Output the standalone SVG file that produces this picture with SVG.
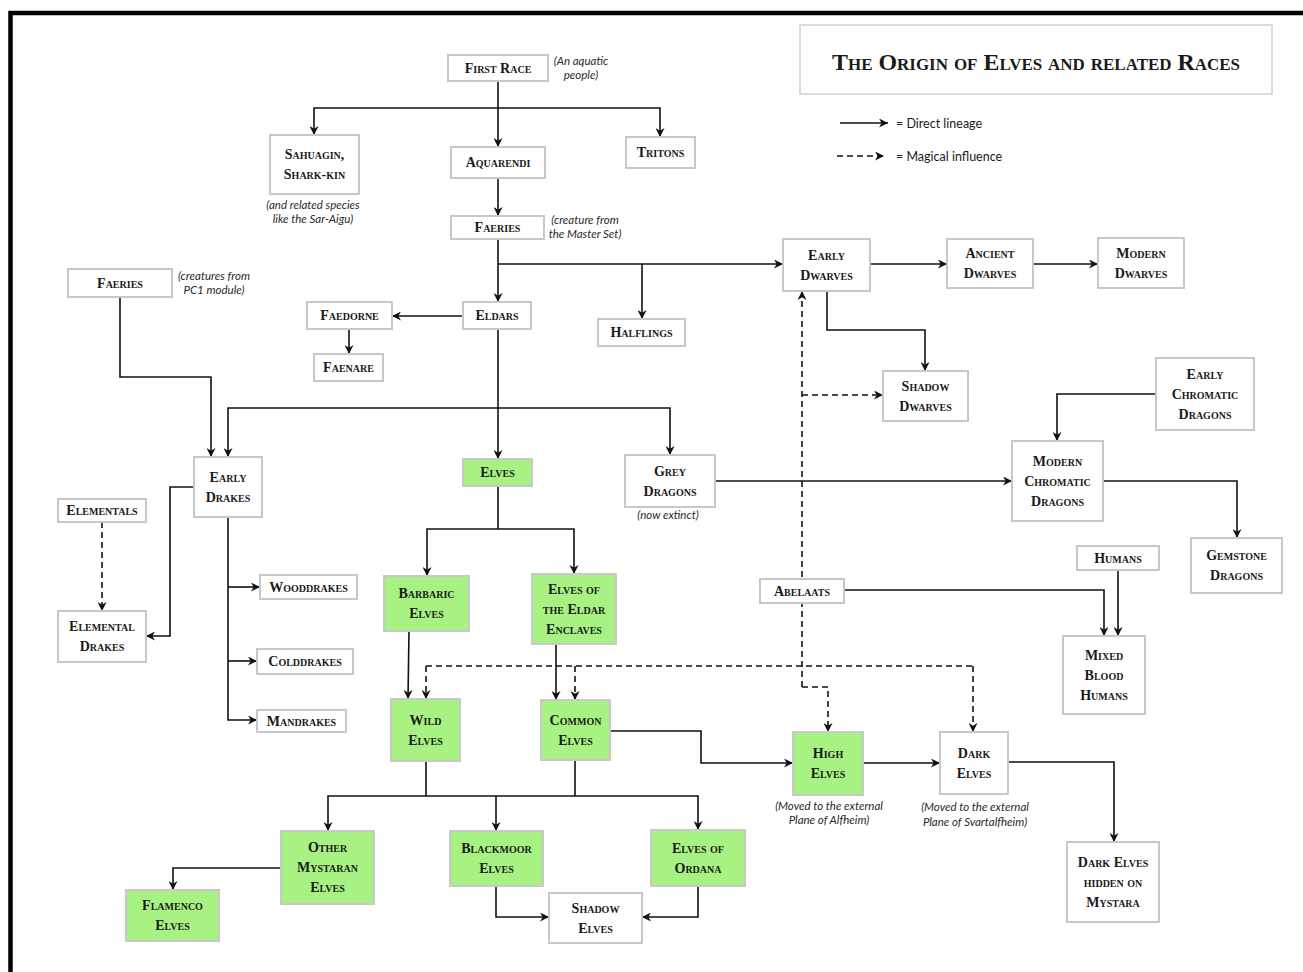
<svg xmlns="http://www.w3.org/2000/svg" width="1303" height="972" viewBox="0 0 1303 972">
<defs>
<marker id="ah" viewBox="0 0 10 10" refX="10" refY="5" markerWidth="9" markerHeight="9" markerUnits="userSpaceOnUse" orient="auto">
<path d="M0,0 L10,5 L0,10 L3,5 Z" fill="#111"/>
</marker>
<style>
.box{fill:#fff;stroke:#c8c8c8;stroke-width:2}
.green{fill:#a7f283}
.lbl{font-family:"Liberation Serif",serif;font-weight:bold;font-variant:small-caps;font-size:14px;fill:#1a1a1a;text-anchor:middle;dominant-baseline:central}
.note{font-family:Lato,"Liberation Sans",sans-serif;font-style:italic;font-size:11.5px;fill:#2a2a2a;text-anchor:middle}
.leg{font-family:Lato,"Liberation Sans",sans-serif;font-size:12.5px;fill:#1a1a1a;dominant-baseline:central}
.ln{fill:none;stroke:#111;stroke-width:1.6}
.ar{marker-end:url(#ah)}
.dash{stroke-dasharray:6 4}
</style>
</defs>
<rect width="1303" height="972" fill="#fff"/>
<path d="M10.5,972 V13 H1303" fill="none" stroke="#000" stroke-width="4.5"/>

<g id="title">
<rect x="800" y="25" width="472" height="69" fill="#fff" stroke="#d0d0d0" stroke-width="1.5"/>
<text x="1036" y="62" class="lbl" style="font-size:24px" textLength="408" lengthAdjust="spacingAndGlyphs">The Origin of Elves and related Races</text>
</g>

<g id="legend">
<path class="ln ar" d="M840,123 H888"/>
<text x="896" y="123" class="leg">= Direct lineage</text>
<path class="ln ar dash" d="M837,156 H884"/>
<text x="896" y="156" class="leg">= Magical influence</text>
</g>

<g id="connectors">
<path class="ln ar" d="M498,81 V147"/>
<path class="ln ar" d="M498,108 H314 V135"/>
<path class="ln ar" d="M498,108 H660 V137"/>
<path class="ln ar" d="M498,178 V216"/>
<path class="ln ar" d="M498,239 V302"/>
<path class="ln ar" d="M498,264 H783"/>
<path class="ln ar" d="M642,264 V319"/>
<path class="ln ar" d="M870,264 H947"/>
<path class="ln ar" d="M1033,264 H1098"/>
<path class="ln ar" d="M827,291 V330 H925 V371"/>
<path class="ln ar" d="M463,316 H392"/>
<path class="ln ar" d="M349,329 V354"/>
<path class="ln ar" d="M498,329 V459"/>
<path class="ln ar" d="M498,408 H228 V457"/>
<path class="ln ar" d="M498,408 H670 V455"/>
<path class="ln ar" d="M120,297 V377 H211 V457"/>
<path class="ln ar" d="M194,487 H170 V636 H146"/>
<path class="ln ar" d="M228,517 V720 H257"/>
<path class="ln ar" d="M228,587 H260"/>
<path class="ln ar" d="M228,661 H257"/>
<path class="ln ar" d="M715,481 H1012"/>
<path class="ln ar" d="M1156,394 H1057 V441"/>
<path class="ln ar" d="M1103,481 H1237 V538"/>
<path class="ln ar" d="M844,590 H1104 V636"/>
<path class="ln ar" d="M1118,570 V636"/>
<path class="ln" d="M498,486 V529"/>
<path class="ln ar" d="M498,529 H427 V576"/>
<path class="ln ar" d="M498,529 H574 V574"/>
<path class="ln ar" d="M409,631 L408,699"/>
<path class="ln ar" d="M556,644 V700"/>
<path class="ln ar" d="M610,731 H701 V763 H793"/>
<path class="ln ar" d="M863,763 H940"/>
<path class="ln ar" d="M1008,762 H1114 V842"/>
<path class="ln" d="M426,761 V796 M575,760 V796"/>
<path class="ln ar" d="M498,796 H328 V831"/>
<path class="ln ar" d="M496,796 V831"/>
<path class="ln ar" d="M498,796 H698 V830"/>
<path class="ln ar" d="M281,868 H173 V890"/>
<path class="ln ar" d="M496,886 V917 H549"/>
<path class="ln ar" d="M698,886 V917 H642"/>
<path class="ln ar dash" d="M102,522 V611"/>
<path class="ln ar dash" d="M802,687 V291"/>
<path class="ln ar dash" d="M802,687 H828 V732"/>
<path class="ln ar dash" d="M802,395 H883"/>
<path class="ln dash" d="M426,666 H973"/>
<path class="ln ar dash" d="M426,666 V699"/>
<path class="ln ar dash" d="M575,666 V700"/>
<path class="ln ar dash" d="M973,666 V732"/>
</g>

<g id="n-firstrace"><rect class="box" x="448" y="55" width="100" height="26"/><text class="lbl" x="498" y="68">First Race</text>
<text class="note" x="581" y="65">(An aquatic</text><text class="note" x="581" y="79">people)</text></g>
<g id="n-sahuagin"><rect class="box" x="270" y="135" width="89" height="59"/><text class="lbl" x="314.5" y="154.5">Sahuagin,</text><text class="lbl" x="314.5" y="174.5">Shark-kin</text>
<text class="note" x="313" y="209">(and related species</text><text class="note" x="313" y="223">like the Sar-Aigu)</text></g>
<g id="n-aquarendi"><rect class="box" x="451" y="147" width="94" height="31"/><text class="lbl" x="498" y="162.5">Aquarendi</text></g>
<g id="n-tritons"><rect class="box" x="626" y="137" width="69" height="31"/><text class="lbl" x="660.5" y="152.5">Tritons</text></g>
<g id="n-faeries1"><rect class="box" x="451" y="216" width="93" height="23"/><text class="lbl" x="497.5" y="227.5">Faeries</text>
<text class="note" x="585" y="224">(creature from</text><text class="note" x="585" y="238">the Master Set)</text></g>
<g id="n-earlydwarves"><rect class="box" x="783" y="239" width="87" height="52"/><text class="lbl" x="826.5" y="255">Early</text><text class="lbl" x="826.5" y="275">Dwarves</text></g>
<g id="n-ancientdwarves"><rect class="box" x="947" y="239" width="86" height="49"/><text class="lbl" x="990" y="253.5">Ancient</text><text class="lbl" x="990" y="273.5">Dwarves</text></g>
<g id="n-moderndwarves"><rect class="box" x="1098" y="238" width="86" height="50"/><text class="lbl" x="1141" y="253">Modern</text><text class="lbl" x="1141" y="273">Dwarves</text></g>
<g id="n-faeries2"><rect class="box" x="68" y="269" width="104" height="28"/><text class="lbl" x="120" y="283">Faeries</text>
<text class="note" x="214" y="280">(creatures from</text><text class="note" x="214" y="294">PC1 module)</text></g>
<g id="n-faedorne"><rect class="box" x="307" y="302" width="85" height="27"/><text class="lbl" x="349.5" y="315.5">Faedorne</text></g>
<g id="n-eldars"><rect class="box" x="463" y="302" width="68" height="27"/><text class="lbl" x="497" y="315.5">Eldars</text></g>
<g id="n-halflings"><rect class="box" x="598" y="319" width="87" height="27"/><text class="lbl" x="641.5" y="332.5">Halflings</text></g>
<g id="n-faenare"><rect class="box" x="314" y="354" width="69" height="27"/><text class="lbl" x="348.5" y="367.5">Faenare</text></g>
<g id="n-shadowdwarves"><rect class="box" x="883" y="371" width="85" height="50"/><text class="lbl" x="925.5" y="386">Shadow</text><text class="lbl" x="925.5" y="406">Dwarves</text></g>
<g id="n-earlychromatic"><rect class="box" x="1156" y="358" width="98" height="72"/><text class="lbl" x="1205" y="374">Early</text><text class="lbl" x="1205" y="394">Chromatic</text><text class="lbl" x="1205" y="414">Dragons</text></g>
<g id="n-modernchromatic"><rect class="box" x="1012" y="441" width="91" height="80"/><text class="lbl" x="1057.5" y="461">Modern</text><text class="lbl" x="1057.5" y="481">Chromatic</text><text class="lbl" x="1057.5" y="501">Dragons</text></g>
<g id="n-earlydrakes"><rect class="box" x="194" y="457" width="68" height="60"/><text class="lbl" x="228" y="477">Early</text><text class="lbl" x="228" y="497">Drakes</text></g>
<g id="n-elves"><rect class="box green" x="463" y="459" width="69" height="27"/><text class="lbl" x="497.5" y="472.5">Elves</text></g>
<g id="n-greydragons"><rect class="box" x="625" y="455" width="90" height="52"/><text class="lbl" x="670" y="471">Grey</text><text class="lbl" x="670" y="491">Dragons</text>
<text class="note" x="668" y="519">(now extinct)</text></g>
<g id="n-elementals"><rect class="box" x="58" y="499" width="88" height="23"/><text class="lbl" x="102" y="510.5">Elementals</text></g>
<g id="n-gemstone"><rect class="box" x="1191" y="538" width="91" height="55"/><text class="lbl" x="1236.5" y="555.5">Gemstone</text><text class="lbl" x="1236.5" y="575.5">Dragons</text></g>
<g id="n-humans"><rect class="box" x="1077" y="546" width="82" height="24"/><text class="lbl" x="1118" y="558">Humans</text></g>
<g id="n-wooddrakes"><rect class="box" x="260" y="575" width="97" height="24"/><text class="lbl" x="308.5" y="587">Wooddrakes</text></g>
<g id="n-barbaric"><rect class="box green" x="384" y="576" width="85" height="55"/><text class="lbl" x="426.5" y="593.5">Barbaric</text><text class="lbl" x="426.5" y="613.5">Elves</text></g>
<g id="n-enclaves"><rect class="box green" x="532" y="574" width="84" height="70"/><text class="lbl" x="574" y="589">Elves of</text><text class="lbl" x="574" y="609">the Eldar</text><text class="lbl" x="574" y="629">Enclaves</text></g>
<g id="n-abelaats"><rect class="box" x="760" y="579" width="84" height="24"/><text class="lbl" x="802" y="591">Abelaats</text></g>
<g id="n-elementaldrakes"><rect class="box" x="58" y="611" width="88" height="51"/><text class="lbl" x="102" y="626.5">Elemental</text><text class="lbl" x="102" y="646.5">Drakes</text></g>
<g id="n-mixedblood"><rect class="box" x="1063" y="636" width="82" height="78"/><text class="lbl" x="1104" y="655">Mixed</text><text class="lbl" x="1104" y="675">Blood</text><text class="lbl" x="1104" y="695">Humans</text></g>
<g id="n-colddrakes"><rect class="box" x="257" y="649" width="96" height="25"/><text class="lbl" x="305" y="661.5">Colddrakes</text></g>
<g id="n-mandrakes"><rect class="box" x="257" y="710" width="89" height="22"/><text class="lbl" x="301.5" y="721">Mandrakes</text></g>
<g id="n-wildelves"><rect class="box green" x="391" y="699" width="69" height="62"/><text class="lbl" x="425.5" y="720">Wild</text><text class="lbl" x="425.5" y="740">Elves</text></g>
<g id="n-commonelves"><rect class="box green" x="541" y="700" width="69" height="60"/><text class="lbl" x="575.5" y="720">Common</text><text class="lbl" x="575.5" y="740">Elves</text></g>
<g id="n-highelves"><rect class="box green" x="793" y="732" width="70" height="63"/><text class="lbl" x="828" y="753.5">High</text><text class="lbl" x="828" y="773.5">Elves</text>
<text class="note" x="829" y="810">(Moved to the external</text><text class="note" x="829" y="824">Plane of Alfheim)</text></g>
<g id="n-darkelves"><rect class="box" x="940" y="732" width="68" height="62"/><text class="lbl" x="974" y="753">Dark</text><text class="lbl" x="974" y="773">Elves</text>
<text class="note" x="975" y="811">(Moved to the external</text><text class="note" x="975" y="826">Plane of Svartalfheim)</text></g>
<g id="n-othermystaran"><rect class="box green" x="281" y="831" width="93" height="73"/><text class="lbl" x="327.5" y="847.5">Other</text><text class="lbl" x="327.5" y="867.5">Mystaran</text><text class="lbl" x="327.5" y="887.5">Elves</text></g>
<g id="n-blackmoor"><rect class="box green" x="450" y="831" width="93" height="55"/><text class="lbl" x="496.5" y="848.5">Blackmoor</text><text class="lbl" x="496.5" y="868.5">Elves</text></g>
<g id="n-ordana"><rect class="box green" x="651" y="830" width="94" height="56"/><text class="lbl" x="698" y="848">Elves of</text><text class="lbl" x="698" y="868">Ordana</text></g>
<g id="n-hidden"><rect class="box" x="1067" y="842" width="92" height="80"/><text class="lbl" x="1113" y="862">Dark Elves</text><text class="lbl" x="1113" y="882">hidden on</text><text class="lbl" x="1113" y="902">Mystara</text></g>
<g id="n-flamenco"><rect class="box green" x="126" y="890" width="93" height="51"/><text class="lbl" x="172.5" y="905.5">Flamenco</text><text class="lbl" x="172.5" y="925.5">Elves</text></g>
<g id="n-shadowelves"><rect class="box" x="549" y="893" width="93" height="50"/><text class="lbl" x="595.5" y="908">Shadow</text><text class="lbl" x="595.5" y="928">Elves</text></g>
</svg>
